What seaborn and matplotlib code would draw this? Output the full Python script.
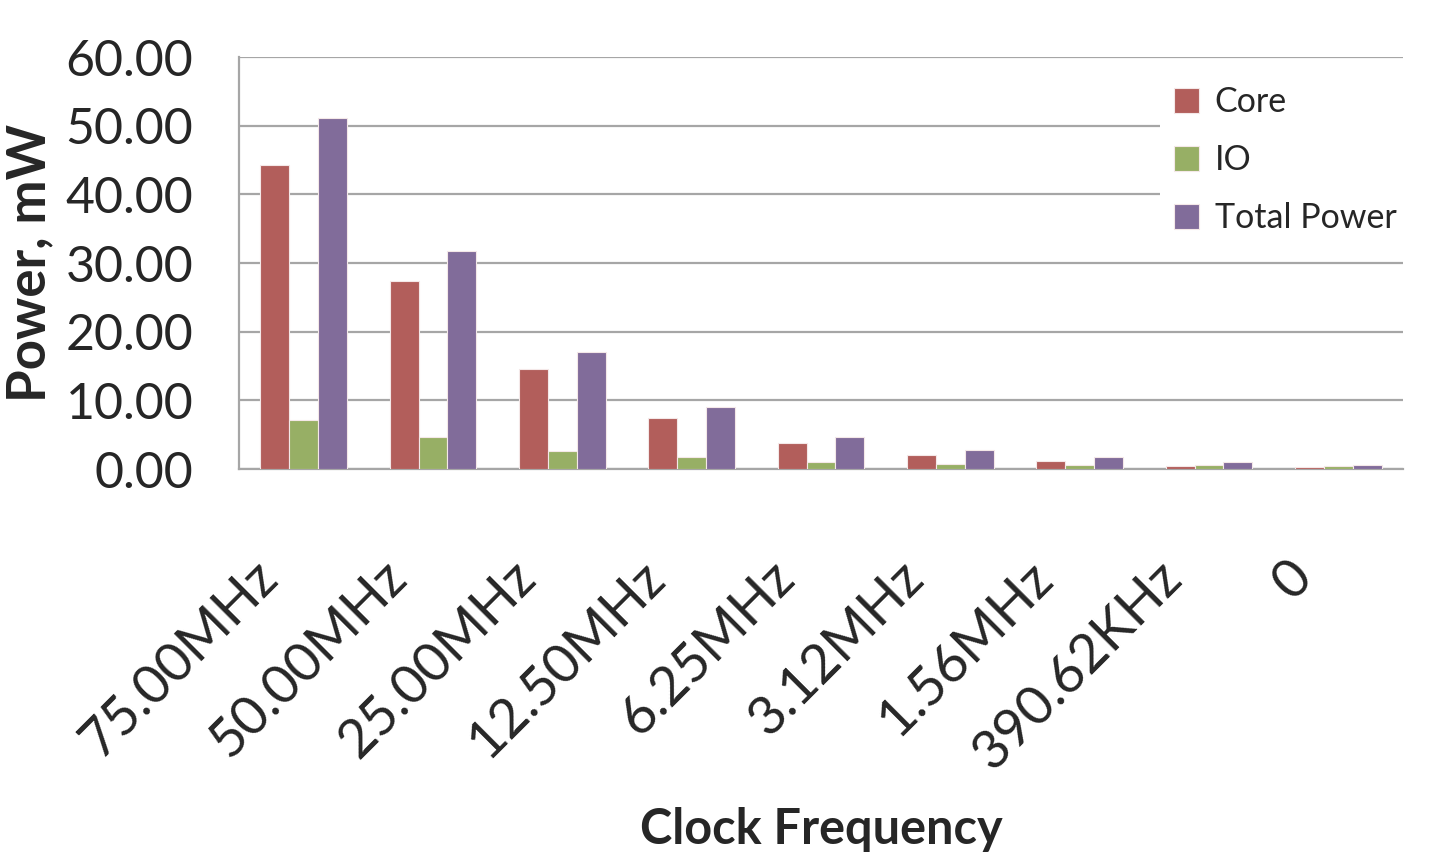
import pandas as pd
import seaborn as sns
import matplotlib.pyplot as plt
import matplotlib.transforms as mtransforms
import numpy as np

# Data
frequencies = ['75.00MHz', '50.00MHz', '25.00MHz', '12.50MHz', '6.25MHz',
               '3.12MHz', '1.56MHz', '390.62KHz', '0']
core = [44.2, 27.4, 14.5, 7.4, 3.8, 2.1, 1.2, 0.4, 0.25]
io = [7.2, 4.6, 2.6, 1.7, 1.0, 0.8, 0.6, 0.6, 0.4]
total = [51.1, 31.8, 17.0, 9.0, 4.7, 2.8, 1.7, 1.0, 0.6]
series = ['Core', 'IO', 'Total Power']
colors = ['#C0504D', '#9BBB59', '#8064A2']

df = pd.DataFrame({'freq': frequencies, 'Core': core, 'IO': io, 'Total Power': total})
df_long = pd.melt(df, id_vars=['freq'], value_vars=series, var_name='series', value_name='power')

sns.set_style('white')
plt.rcParams['font.family'] = ['Lato', 'DejaVu Sans']

fig = plt.figure(figsize=(14.31, 8.66), dpi=100)
ax = fig.add_axes([239 / 1431, 1 - 469 / 866, (1403 - 239) / 1431, (469 - 57) / 866])

sns.barplot(data=df_long, x='freq', y='power', hue='series', order=frequencies,
            hue_order=series, palette=colors, width=0.67, gap=0,
            edgecolor='#f4e8e8', linewidth=0.8, ax=ax, zorder=3)

grid_c = '#A6A6A6'
ax.set_ylim(0, 60)
ax.set_xlim(-0.5, len(frequencies) - 0.5)
ax.set_yticks(np.arange(0, 61, 10))
ax.set_yticklabels([f'{v:.2f}' for v in np.arange(0, 61, 10)], fontsize=36)
ax.yaxis.grid(True, color=grid_c, linewidth=1.6, zorder=0)
ax.set_axisbelow(True)

for s in ['top', 'right']:
    ax.spines[s].set_visible(False)
for s in ['left', 'bottom']:
    ax.spines[s].set_color(grid_c)
    ax.spines[s].set_linewidth(1.6)

ax.tick_params(axis='y', length=12, width=1.6, color=grid_c, pad=21)
ax.set_xticks(np.arange(-0.5, len(frequencies)), minor=True)
ax.tick_params(axis='x', which='minor', length=16, width=1.6, color=grid_c)
ax.tick_params(axis='x', which='major', length=0, pad=72)
ax.set_xticks(range(len(frequencies)))
ax.set_xticklabels(frequencies, fontsize=39, rotation=45, ha='right',
                   va='center', rotation_mode='anchor')
offset = mtransforms.ScaledTranslation(-35 / 100, 0, fig.dpi_scale_trans)
for lab in ax.get_xticklabels():
    lab.set_transform(lab.get_transform() + offset)

ax.set_xlabel('Clock Frequency', fontsize=35, fontweight='bold', labelpad=21)
ax.set_ylabel('Power, mW', fontsize=38, fontweight='bold', labelpad=8)

leg = ax.legend(loc='upper right', bbox_to_anchor=(1.006, 0.962), borderaxespad=0,
                fontsize=24.5, frameon=True, facecolor='white', edgecolor='white',
                framealpha=1, handlelength=0.75, handleheight=0.75,
                handletextpad=0.45, labelspacing=0.76, borderpad=0.4, title=None)
leg.set_zorder(5)
leg.get_frame().set_linewidth(0)

fig.savefig('out.png', dpi=100)
